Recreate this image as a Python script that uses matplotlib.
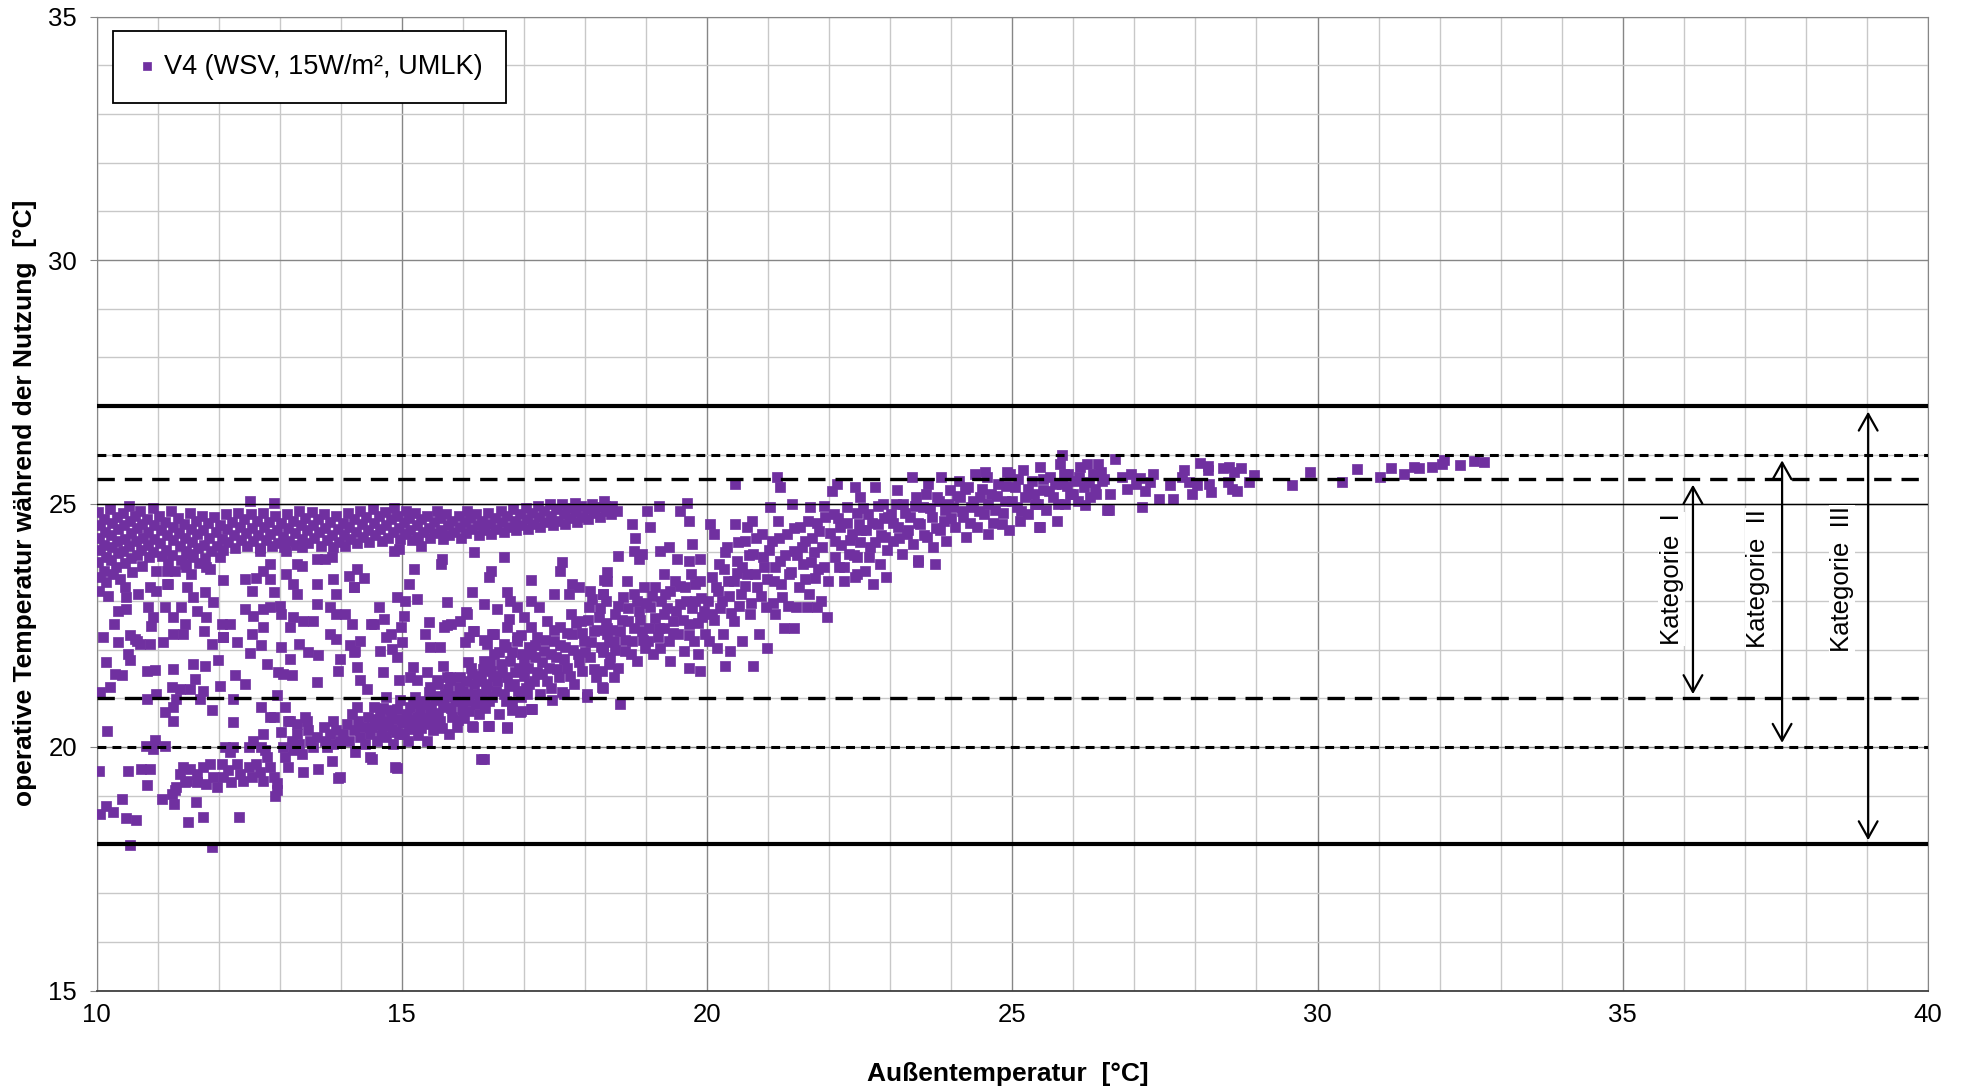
import numpy as np
import matplotlib
matplotlib.use("Agg")
import matplotlib.pyplot as plt
from matplotlib.ticker import MultipleLocator

plt.rcParams['font.family'] = ['Liberation Sans', 'DejaVu Sans']

# ---------------- data ----------------
series_label = "V4 (WSV, 15W/m², UMLK)"
x_label = "Außentemperatur  [°C]"
y_label = "operative Temperatur während der Nutzung  [°C]"
x_ticks = [10, 15, 20, 25, 30, 35, 40]
y_ticks = [15, 20, 25, 30, 35]

# comfort limits (EN 15251 style categories)
limit_solid = [27, 18]      # Kategorie III
limit_dotted = [26, 20]     # Kategorie II
limit_dashed = [25.5, 21]   # Kategorie I
categories = ["Kategorie  I", "Kategorie  II", "Kategorie  III"]
category_ranges = [(21, 25.5), (20, 26), (18, 27)]

# upper band of points at low outdoor temperatures
band_upper = [
    (10.03,24.82),(10.05,24.55),(10.04,24.3),(10.06,24.05),(10.03,23.8),(10.05,23.5),(10.04,23.2),
    (10.12,24.68),(10.14,24.42),(10.13,24.15),(10.15,23.9),(10.12,23.62),(10.16,23.38),(10.22,24.88),
    (10.25,24.6),(10.24,24.35),(10.26,24.1),(10.23,23.85),(10.27,23.55),(10.33,24.72),(10.35,24.48),
    (10.34,24.22),(10.36,23.98),(10.32,23.7),(10.38,23.45),(10.44,24.8),(10.45,24.55),(10.46,24.28),
    (10.43,24.02),(10.47,23.78),(10.53,24.95),(10.55,24.65),(10.56,24.4),(10.54,24.12),(10.57,23.88),
    (10.58,23.6),(10.63,24.75),(10.66,24.5),(10.64,24.22),(10.67,23.95),(10.72,24.85),(10.74,24.58),
    (10.76,24.3),(10.73,24.05),(10.75,23.72),(10.82,24.68),(10.85,24.42),(10.84,24.15),(10.86,23.9),
    (10.92,24.9),(10.94,24.55),(10.95,24.28),(10.93,24.0),(10.97,23.62),(11.03,24.75),(11.05,24.45),
    (11.04,24.18),(11.07,23.92),(11.12,24.62),(11.15,24.35),(11.14,24.05),(11.17,23.75),(11.22,24.85),
    (11.25,24.52),(11.26,24.25),(11.24,23.95),(11.28,23.62),(11.33,24.7),(11.35,24.4),(11.36,24.12),
    (11.38,23.85),(11.43,24.58),(11.45,24.3),(11.47,24.02),(11.46,23.7),(11.53,24.8),(11.55,24.48),
    (11.56,24.2),(11.58,23.9),(11.55,23.55),(11.63,24.65),(11.65,24.38),(11.66,24.08),(11.68,23.78),
    (11.73,24.75),(11.75,24.45),(11.76,24.15),(11.78,23.88),(11.83,24.6),(11.85,24.3),(11.88,24.02),
    (11.86,23.65),(11.93,24.72),(11.95,24.42),(11.97,24.12),(12.03,24.55),(12.05,24.28),(12.07,24.05),
    (12.12,24.78),(12.14,24.48),(12.16,24.2),(12.22,24.62),(12.25,24.35),(12.27,24.08),(12.32,24.8),
    (12.35,24.52),(12.37,24.25),(12.42,24.68),(12.45,24.4),(12.47,24.12),(12.51,25.06),(12.53,24.78),
    (12.55,24.5),(12.57,24.22),(12.63,24.65),(12.65,24.35),(12.67,24.08),(12.73,24.8),(12.75,24.52),
    (12.77,24.25),(12.83,24.62),(12.85,24.38),(12.88,24.12),(12.91,25.02),(12.93,24.75),(12.95,24.45),
    (12.97,24.18),(13.03,24.6),(13.05,24.32),(13.07,24.1),(13.12,24.78),(13.14,24.5),(13.16,24.22),
    (13.22,24.65),(13.25,24.4),(13.27,24.15),(13.32,24.85),(13.35,24.55),(13.37,24.28),(13.42,24.7),
    (13.45,24.45),(13.47,24.18),(13.53,24.82),(13.55,24.55),(13.57,24.3),(13.63,24.68),(13.65,24.42),
    (13.67,24.12),(13.73,24.78),(13.75,24.5),(13.77,24.25),(13.83,24.62),(13.85,24.35),(13.88,24.1),
    (13.93,24.75),(13.95,24.48),(13.97,24.2),(14.03,24.6),(14.05,24.35),(14.07,24.12),(14.12,24.8),
    (14.14,24.52),(14.16,24.28),(14.22,24.68),(14.25,24.42),(14.27,24.18),(14.32,24.85),(14.35,24.58),
    (14.37,24.32),(14.42,24.72),(14.45,24.45),(14.47,24.2),(14.53,24.88),(14.55,24.6),(14.57,24.35),
    (14.63,24.75),(14.65,24.48),(14.67,24.22),(14.73,24.82),(14.75,24.55),(14.77,24.3),(14.83,24.68),
    (14.85,24.42),(14.88,24.9),(14.93,24.75),(14.95,24.5),(14.97,24.28),(15.03,24.62),(15.05,24.38),
    (15.07,24.85),(15.12,24.7),(15.14,24.45),(15.16,24.25),(15.22,24.8),(15.25,24.55),(15.27,24.32),
    (15.32,24.68),(15.35,24.42),(15.42,24.75),(15.45,24.5),(15.47,24.3),(15.53,24.62),(15.55,24.4),
    (15.57,24.85),(15.63,24.7),(15.65,24.45),(15.67,24.28),(15.73,24.78),(15.75,24.55),(15.77,24.35),
    (15.83,24.65),(15.85,24.42),(15.93,24.75),(15.95,24.52),(15.97,24.3),(16.03,24.62),(16.05,24.4),
    (16.07,24.85),(16.12,24.7),(16.14,24.48),(16.22,24.78),(16.25,24.55),(16.27,24.35),(16.32,24.65),
    (16.35,24.45),(16.42,24.8),(16.45,24.58),(16.47,24.38),(16.53,24.7),(16.55,24.48),(16.63,24.85),
    (16.65,24.62),(16.67,24.42),(16.73,24.75),(16.75,24.52),(16.83,24.88),(16.85,24.65),(16.87,24.45),
    (16.93,24.78),(16.95,24.55),(17.03,24.9),(17.05,24.68),(17.07,24.48),(17.13,24.8),(17.15,24.58),
    (17.23,24.95),(17.25,24.72),(17.27,24.52),(17.33,24.85),(17.35,24.62),(17.43,24.98),(17.45,24.75),
    (17.47,24.55),(17.53,24.88),(17.55,24.65),(17.63,25.0),(17.65,24.78),(17.67,24.58),(17.73,24.9),
    (17.75,24.7),(17.83,25.02),(17.85,24.82),(17.87,24.62),(17.93,24.95),(17.95,24.72),(18.03,24.88),
    (18.05,24.68),(18.12,25.0),(18.15,24.8),(18.22,24.92),(18.25,24.72),(18.32,25.05),(18.35,24.85),
    (18.45,24.95),(18.42,24.78),
]

# loose points between the two bands
scatter_mid = [
    (10.11,22.26),(10.16,21.74),(10.05,21.13),(10.22,21.24),(10.36,22.15),(10.3,21.5),(10.41,21.47),
    (10.55,22.29),(10.63,22.22),(10.52,21.91),(10.55,21.78),(10.71,22.12),(10.87,22.12),(11.09,22.15),
    (10.82,21.57),(10.96,21.59),(10.98,21.09),(10.82,20.99),(11.23,21.23),(11.37,21.2),(11.53,21.2),
    (11.26,21.6),(11.58,21.71),(11.78,21.67),(11.61,21.4),(11.75,21.16),(11.31,20.99),(11.69,20.99),
    (11.12,20.72),(11.26,20.82),(11.26,20.54),(11.89,20.75),(12.02,21.26),(11.99,21.78),
    (12.07,22.26),(12.3,22.15),(12.27,21.47),(12.43,21.3),(12.24,20.99),(12.24,20.51),(12.54,22.33),
    (12.51,21.92),(12.7,22.09),(12.79,21.71),(12.73,22.46),(12.98,21.54),(13.06,21.5),(13.2,21.47),
    (12.95,21.06),(12.7,20.82),(12.9,20.61),(13.09,20.82),(13.17,20.54),(13.03,22.05),(13.17,21.81),
    (13.31,22.12),(13.47,21.95),(13.63,21.88),(13.61,21.33),(13.83,22.33),(13.93,22.22),(13.96,21.57),
    (13.99,21.81),(14.15,22.09),(14.21,21.95),(14.26,21.64),(14.32,21.37),(14.43,21.2),(14.54,22.53),
    (14.64,21.98),(14.75,22.26),(14.84,22.02),(14.92,21.85),(15.0,22.15),(14.95,21.37),(14.7,21.54),
    (15.14,21.44),(15.19,21.64),(15.41,21.54),(15.38,22.33),(15.46,22.05),(15.63,22.05),(15.74,22.5),
    (15.68,21.67),(15.79,21.44),(16.07,22.74),(16.04,22.15),(16.17,22.39),(16.09,21.74),(16.34,22.19),
    (16.48,22.33),(16.67,22.12),(16.72,22.46),(16.89,22.26),
    (10.19,23.11),(10.46,23.28),(10.49,23.07),(10.68,23.14),(10.87,23.28),(10.98,23.21),(11.15,23.35),
    (11.48,23.28),(11.58,23.07),(11.78,23.18),(10.36,22.8),(10.49,22.83),(10.85,22.87),(10.93,22.66),
    (11.12,22.87),(11.26,22.66),(11.39,22.87),(11.45,22.52),(11.64,22.8),(11.8,22.66),(11.91,22.97),
    (10.28,22.52),(10.9,22.48),(11.26,22.32),(11.42,22.32),(11.76,22.39),(11.89,22.11),(12.08,22.25),
    (10.66,22.18),(12.19,22.52),(12.05,22.52),(12.43,22.83),(12.57,22.7),(12.73,22.83),(12.84,22.87),
    (13.01,22.9),(13.03,22.73),(13.22,22.66),(13.17,22.46),(13.39,22.59),(13.55,22.59),(13.93,22.73),
    (14.07,22.73),(14.18,22.52),(12.62,23.48),(12.43,23.45),(12.54,23.21),(12.73,23.62),(12.84,23.45),
    (12.9,23.18),(13.11,23.55),(13.22,23.35),(13.28,23.14),(13.36,23.72),(13.61,23.35),(13.88,23.45),
    (13.93,23.14),(14.13,23.52),(14.21,23.28),(13.61,22.94),(13.83,22.87),(12.68,24.03),(12.84,23.76),
    (13.11,24.03),(13.28,23.76),(13.36,24.1),(13.61,23.86),(13.74,23.86),(13.85,23.9),(11.45,23.76),
    (11.53,23.96),(11.15,23.62),(11.17,23.35),(11.8,23.69),(12.08,23.42),(12.02,23.9),
    (14.38,23.48),(14.27,23.65),(14.21,23.28),(14.87,24.03),(14.95,24.07),(15.31,24.13),(15.66,23.86),
    (15.64,23.76),(15.2,23.65),(15.12,23.35),(16.18,24.0),(16.67,23.9),(16.46,23.62),(16.43,23.5),
    (17.11,23.43),(17.63,23.79),(17.59,23.62),(17.79,23.35),(17.9,23.28),(18.09,23.21),(18.37,23.59),
    (18.31,23.42),(14.92,23.07),(15.06,23.0),(15.25,23.04),(14.62,22.87),(14.71,22.63),(15.03,22.7),
    (15.44,22.56),(15.74,22.97),(16.15,23.18),(16.05,22.77),(16.35,22.94),(16.56,22.83),(16.73,23.18),
    (16.78,23.0),(16.89,22.87),(17.11,23.0),(17.25,22.87),(17.49,23.14),(17.74,23.14),(17.0,22.66),
    (16.76,22.63),(16.51,22.32),(16.18,22.39),(16.4,22.11),(15.96,22.59),(15.8,22.52),(15.69,22.46),
    (14.98,22.46),(14.82,22.32),(14.49,22.52),(14.32,22.18),(14.24,21.98),
]

# lower band rising with outdoor temperature
band_lower = [
    (11.31,19.17),(11.37,19.45),(11.42,19.59),(11.53,19.55),(11.48,19.31),(11.64,19.45),(11.64,19.28),
    (11.75,19.59),(11.8,19.24),(11.86,19.65),(11.91,19.38),(11.97,19.17),(11.23,19.04),(11.28,19.11),
    (11.45,19.28),(12.05,19.65),(12.08,19.38),(12.16,19.52),(12.21,19.28),(12.3,19.65),(12.35,19.45),
    (12.4,19.31),(12.49,19.59),(12.54,19.38),(12.62,19.65),(12.68,19.48),(12.73,19.31),(12.79,19.79),
    (12.84,19.59),(12.9,19.38),(12.95,19.11),(12.76,19.93),(12.7,20.0),(12.57,20.13),
    (12.49,20.0),(12.24,20.0),(12.1,20.0),(12.19,19.89),(13.03,20.31),(13.06,20.0),(13.09,19.79),
    (13.14,19.59),(13.2,20.13),(13.22,19.93),(13.28,20.27),(13.31,20.06),(13.36,19.86),(13.39,19.48),
    (13.42,20.61),(13.47,20.34),(13.5,20.13),(13.55,20.0),(13.61,20.2),(13.63,19.55),(13.72,20.41),
    (13.74,20.13),(13.77,20.0),(13.83,20.27),(13.88,20.54),(13.88,20.06),(13.93,20.34),(13.99,20.13),
    (13.99,19.38),(13.28,20.48),(13.44,20.54),(13.14,20.54),(12.84,20.61),(12.73,20.27),(13.85,19.72),
    (13.96,19.36),(14.92,19.56),(14.48,19.79),
    (14.04,20.27),(14.1,20.48),(14.13,20.13),(14.18,20.68),(14.21,20.34),(14.23,19.89),(14.29,20.54),
    (14.32,20.2),(14.37,20.41),(14.4,20.06),(14.45,20.61),(14.48,20.27),(14.51,19.76),(14.56,20.48),
    (14.59,20.13),(14.64,20.68),(14.67,20.34),(14.73,20.54),(14.75,20.2),(14.81,20.75),(14.84,20.37),
    (14.86,20.06),(14.89,19.59),(14.92,20.58),(14.95,20.27),(14.97,20.96),(14.26,20.82),(14.54,20.82),
    (14.75,21.02),(15.03,20.27),(15.05,20.54),(15.11,20.13),(15.14,20.82),(15.16,20.41),(15.22,21.02),
    (15.25,20.61),(15.27,20.24),(15.33,20.89),(15.36,20.48),(15.41,20.13),(15.44,21.13),(15.46,20.68),
    (15.52,20.34),(15.55,20.96),(15.6,21.3),(15.63,20.54),(15.68,20.82),(15.71,21.09),(15.77,20.27),
    (15.79,21.37),(15.82,20.61),(15.87,20.96),(15.9,20.41),(15.93,21.23),(15.98,20.75),(15.96,21.44),
    (15.74,21.44),(15.57,21.37),(15.25,21.37),(15.46,21.23),(16.05,21.36),(16.07,21.09),(16.1,20.74),
    (16.13,21.63),(16.18,21.29),(16.21,20.88),(16.26,20.68),(16.29,21.46),(16.32,21.09),(16.35,21.77),
    (16.37,20.81),(16.4,21.29),(16.46,21.57),(16.48,21.02),(16.51,21.91),(16.56,21.36),(16.59,20.68),
    (16.62,21.7),(16.67,21.09),(16.7,22.05),(16.73,21.43),(16.78,21.77),(16.81,20.88),(16.84,21.29),
    (16.89,22.18),(16.92,21.63),(16.95,21.02),(16.97,21.91),(16.15,20.44),(16.43,20.44),(16.73,20.4),
    (17.11,20.78),(16.95,20.74),(16.29,19.75),(16.1,22.25),(16.17,20.41),(16.42,20.44),(16.72,20.41),
    (16.34,19.76),(16.8,20.75),(16.94,20.72),(17.13,20.78),(17.05,21.09),(17.46,20.96),(17.62,21.13),
    (18.28,21.23),(18.03,21.02),
    (17.03,21.22),(17.06,21.63),(17.08,22.05),(17.11,22.46),(17.16,21.36),(17.19,21.84),(17.22,22.25),
    (17.27,21.09),(17.3,21.5),(17.33,21.98),(17.38,22.59),(17.41,21.63),(17.44,21.22),(17.49,22.18),
    (17.52,21.84),(17.58,21.43),(17.6,22.46),(17.66,21.09),(17.68,22.05),(17.71,21.63),(17.77,22.73),
    (17.79,22.32),(17.82,21.29),(17.88,21.91),(17.93,22.59),(17.96,21.57),(17.99,22.18),(18.04,21.09),
    (18.07,22.87),(18.09,21.84),(18.15,22.39),(18.18,21.43),(18.23,22.66),(18.26,22.05),(18.29,21.22),
    (18.34,23.0),(18.37,22.32),(18.4,21.7),(18.29,23.14),(18.12,23.04),
    (18.28,21.56),(18.3,22.04),(18.36,22.45),(18.41,21.84),(18.47,22.18),(18.5,22.73),(18.55,21.63),
    (18.58,22.39),(18.63,23.07),(18.66,21.97),(18.71,22.59),(18.77,22.18),(18.8,23.14),(18.85,21.77),
    (18.88,22.8),(18.93,22.39),(18.96,23.28),(18.99,22.04),(18.58,20.88),(18.47,21.43),(18.69,23.41),
    (18.36,23.41),(18.3,23.14),(18.55,23.93),(18.88,23.86),(18.77,24.58),(18.82,24.3),(18.52,24.85),
    (18.33,24.95),
    (19.04,22.18),(19.07,22.87),(19.12,21.91),(19.15,23.28),(19.21,22.45),(19.23,22.04),(19.29,22.73),
    (19.32,23.14),(19.37,22.18),(19.4,21.77),(19.45,22.59),(19.48,23.41),(19.53,22.32),(19.56,22.93),
    (19.62,21.97),(19.64,23.28),(19.7,22.52),(19.73,23.55),(19.78,22.18),(19.81,23.0),(19.86,21.91),
    (19.89,23.41),(19.92,22.66),(19.97,22.32),(19.7,21.63),(19.89,21.56),(19.02,24.85),(19.21,24.95),
    (19.56,24.85),(19.67,25.02),(19.7,24.65),(19.07,24.51),(18.8,24.03),(18.93,23.96),(19.23,24.03),
    (19.37,24.1),(19.51,23.86),(19.7,23.82),(19.89,23.86),(19.75,24.17),(19.29,23.55),
    (20.03,22.18),(20.05,24.58),(20.08,22.73),(20.11,24.37),(20.14,23.28),(20.16,22.04),(20.19,23.76),
    (20.24,23.0),(20.27,22.32),(20.33,24.1),(20.35,23.41),(20.38,21.97),(20.44,22.59),(20.46,24.58),
    (20.49,23.82),(20.55,23.14),(20.57,22.18),(20.63,24.23),(20.65,23.55),(20.71,22.73),(20.74,24.65),
    (20.76,23.96),(20.82,23.28),(20.85,22.32),(20.9,24.37),(20.93,23.69),(20.96,22.87),(20.98,22.04),
    (20.3,21.67),(20.76,21.67),(20.49,23.58),(20.65,24.51),
    (21.04,24.92),(21.06,24.23),(21.09,23.41),(21.12,22.73),(21.17,24.65),(21.2,23.82),(21.23,23.07),
    (21.26,22.45),(21.31,24.37),(21.34,23.55),(21.39,24.99),(21.42,24.03),(21.45,22.87),(21.5,23.28),
    (21.53,24.51),(21.58,23.76),(21.61,24.23),(21.67,23.14),(21.69,24.92),(21.75,24.0),(21.77,23.48),
    (21.83,24.44),(21.86,23.0),(21.91,23.69),(21.94,24.72),(21.97,22.66),(21.64,22.87),(21.42,22.45),
    (21.8,22.87),(21.2,25.33),(21.15,25.54),(20.46,25.4),
    (22.05,25.26),(22.08,24.78),(22.1,24.23),(22.16,23.69),(22.18,24.51),(22.24,23.41),(22.29,24.92),
    (22.32,23.96),(22.38,24.37),(22.43,25.33),(22.46,23.55),(22.49,24.58),(22.13,25.4),
    (22.5,25.13),(22.53,24.45),(22.59,23.62),(22.64,24.79),(22.67,24.1),(22.72,23.35),(22.75,25.34),
    (22.8,24.58),(22.83,23.76),(22.89,24.99),(22.91,24.31),(22.94,23.49),(22.97,24.72),(22.45,23.9),
    (22.42,23.49),
    (23.02,24.79),(23.05,24.24),(23.11,25.27),(23.13,24.51),(23.19,23.97),(23.21,24.99),(23.27,24.38),
    (23.32,24.72),(23.35,25.54),(23.38,24.17),(23.43,25.13),(23.46,23.83),(23.49,24.58),(23.54,24.92),
    (23.6,24.31),(23.62,25.4),(23.68,24.72),(23.71,24.1),(23.76,25.13),(23.82,24.45),(23.84,25.54),
    (23.9,24.86),(23.92,24.24),(23.98,25.27),(23.73,23.76),(23.46,23.79),
    (24.03,24.92),(24.06,24.51),(24.12,25.47),(24.14,25.13),(24.2,24.72),(24.25,24.31),(24.28,25.34),
    (24.33,24.92),(24.39,25.61),(24.42,24.51),(24.47,25.13),(24.53,24.79),(24.58,25.54),(24.61,24.38),
    (24.66,25.2),(24.72,24.86),(24.77,25.4),(24.83,24.58),(24.88,25.06),(24.94,24.45),(24.96,25.61),
    (24.91,25.64),(24.55,25.64),
    (25.04,25.34),(25.07,24.92),(25.13,24.65),(25.18,25.68),(25.21,25.13),(25.26,24.79),(25.32,25.47),
    (25.37,24.99),(25.43,24.51),(25.45,25.75),(25.51,25.27),(25.56,24.86),(25.62,25.54),(25.67,25.13),
    (25.73,24.65),(25.78,25.82),(25.81,25.4),(25.86,24.99),(25.92,25.61),(25.95,25.2),(25.81,25.99),
    (25.45,24.51),
    (26.03,25.47),(26.08,25.06),(26.11,25.75),(26.17,25.34),(26.22,25.82),(26.27,25.13),(26.33,25.61),
    (26.38,25.2),(26.41,25.82),(26.47,25.47),(26.55,24.86),(26.19,24.96),
]

# extra points in the densest part of the rising band
band_lower_dense = [
    (14.52,20.42),(14.6,20.58),(14.66,20.22),(14.7,20.8),(14.78,20.45),(14.82,20.62),(14.9,20.3),
    (14.93,20.78),(15.0,20.5),(15.08,20.68),(15.12,20.36),(15.19,20.9),(15.2,20.55),(15.3,20.75),
    (15.31,20.4),(15.38,20.95),(15.4,20.6),(15.48,20.82),(15.5,20.5),(15.58,21.05),(15.6,20.7),
    (15.66,20.4),(15.7,20.92),(15.76,21.2),(15.8,20.8),(15.85,21.05),(15.92,20.55),(15.95,20.95),
    (16.0,21.15),(16.02,20.6),(16.08,20.95),(16.15,21.5),(16.2,21.08),(16.25,21.35),(16.28,20.9),
    (16.33,21.6),(16.38,21.2),(16.43,20.95),(16.45,21.75),(16.5,21.45),
    (16.55,21.15),(16.6,21.95),(16.65,21.55),(16.7,20.95),(16.75,21.25),(16.8,21.95),(16.85,21.55),
    (16.9,21.15),(16.95,22.3),(17.0,21.75),(17.0,21.45),(17.08,21.3),(17.12,21.9),(17.18,22.1),
    (17.22,21.55),(17.3,21.75),(17.35,22.2),(17.38,21.35),(17.45,21.9),(17.5,22.4),(17.55,21.6),
    (17.6,22.1),(17.65,21.8),(17.7,22.35),(17.75,21.45),(17.8,22.0),(17.85,22.55),(17.9,21.75),
    (17.95,22.35),(18.0,21.95),(18.05,22.6),(18.1,22.15),(18.15,21.6),(18.2,22.4),(18.25,22.85),
    (18.3,21.95),(18.35,22.55),(18.4,22.15),
    (18.45,22.4),(18.5,22.0),(18.55,22.9),(18.6,22.6),(18.65,22.2),(18.7,22.85),(18.75,21.9),
    (18.8,22.45),(18.85,23.0),(18.9,22.6),(18.95,22.2),(19.0,22.95),(19.05,22.45),(19.1,23.1),
    (19.15,22.65),(19.2,22.25),(19.25,23.0),(19.3,22.45),(19.35,22.85),(19.4,23.2),(19.45,22.35),
    (19.5,22.8),(19.55,23.3),(19.6,22.6),(19.65,23.0),(19.7,22.3),(19.75,22.85),(19.8,23.35),
    (19.85,22.55),(19.9,23.05),(19.95,22.8),
    (20.02,23.0),(20.08,23.5),(20.12,22.6),(20.18,23.2),(20.22,22.85),(20.28,23.65),(20.3,24.0),
    (20.36,23.1),(20.4,22.75),(20.45,23.4),(20.5,24.2),(20.52,22.9),(20.58,23.7),(20.62,23.3),
    (20.68,23.95),(20.72,22.95),(20.78,23.55),(20.8,24.3),(20.88,23.1),(20.92,23.9),(20.98,23.45),
    (21.02,24.05),(21.08,22.95),(21.12,23.7),(21.18,24.3),(21.22,23.35),(21.28,23.95),(21.32,22.9),
    (21.38,23.6),(21.42,24.5),(21.48,23.95),
    (21.55,24.1),(21.6,23.45),(21.65,24.65),(21.7,23.8),(21.72,24.3),(21.8,24.6),(21.82,23.65),
    (21.88,24.1),(21.92,24.95),(21.98,23.4),(22.02,24.4),(22.1,23.9),(22.15,24.7),(22.2,24.15),
    (22.25,23.7),(22.3,24.6),(22.35,24.25),(22.4,23.95),(22.45,24.8),(22.5,24.2),(22.55,24.9),
    (22.6,24.45),(22.65,23.9),(22.7,24.6),(22.75,24.2),(22.8,24.95),(22.85,24.35),(22.9,24.7),
    (22.95,24.05),
    (23.05,24.6),(23.1,25.0),(23.15,24.3),(23.25,24.8),(23.3,24.45),(23.4,24.95),(23.45,24.6),
    (23.55,24.35),(23.58,25.2),(23.65,24.9),(23.75,24.5),(23.8,25.05),(23.88,24.65),(23.95,25.0),
    (24.0,24.7),(24.1,25.15),(24.18,24.85),(24.22,25.3),(24.3,24.6),(24.36,25.05),(24.45,24.85),
    (24.5,25.3),(24.6,25.0),(24.68,24.6),(24.75,25.15),(24.85,24.8),(24.9,25.35),(25.0,25.05),
    (25.1,25.5),(25.15,24.85),(25.25,25.3),(25.35,25.2),(25.42,25.0),(25.5,25.5),(25.6,25.25),
    (25.7,25.4),(25.75,25.0),(25.85,25.6),(25.9,25.35),(26.0,25.2),(26.1,25.55),(26.25,25.45),
    (26.35,25.3),(26.45,25.65),
]

# sparse points at high outdoor temperatures
tail_right = [
    (26.5,25.5),(26.6,25.2),(26.69,25.92),(26.8,25.55),(26.88,25.3),(26.95,25.6),(27.02,25.4),
    (27.1,25.52),(27.18,25.25),(27.25,25.45),(27.3,25.6),(26.58,24.86),(27.12,24.93),(27.4,25.1),
    (27.64,25.1),(27.59,25.37),(27.81,25.69),(27.78,25.54),(27.9,25.45),(28.03,25.38),(27.94,25.2),
    (28.08,25.84),(28.2,25.78),(28.2,25.68),(28.22,25.4),(28.26,25.23),(28.46,25.72),(28.55,25.75),
    (28.64,25.65),(28.74,25.72),(28.54,25.44),(28.6,25.3),(28.68,25.25),(28.87,25.44),(28.96,25.58),
    (29.58,25.37),(29.87,25.64),(30.4,25.44),(30.64,25.7),(31.02,25.54),(31.2,25.73),(31.41,25.61),
    (31.58,25.75),(31.66,25.72),(31.88,25.74),(32.04,25.81),(32.07,25.89),(32.33,25.8),(32.56,25.88),
    (32.72,25.86),
]

# isolated low values at cool outdoor temperatures
outliers_low = [
    (10.05,18.62),(10.16,18.79),(10.27,18.66),(10.41,18.93),(10.49,18.54),(10.64,18.5),(10.55,17.98),
    (11.08,18.93),(11.27,18.83),(11.5,18.47),(11.63,18.87),(11.75,18.57),(11.9,17.94),(12.34,18.57),
    (10.04,19.51),(10.52,19.51),(10.73,19.54),(10.87,19.54),(10.83,19.22),(10.18,20.33),(10.81,20.02),
    (10.96,20.14),(11.12,20.02),(10.93,19.96),(12.95,19.27),(12.92,19.0),
]

# ---------------- figure ----------------
W, H = 1966, 1091
fig = plt.figure(figsize=(W / 100, H / 100), dpi=100)
ax = fig.add_axes([96.5 / W, 1 - 990.5 / H, 1831.5 / W, 974 / H])

pts = np.array(band_upper + scatter_mid + band_lower + band_lower_dense + tail_right + outliers_low)
purple = "#7030A0"
ax.scatter(pts[:, 0], pts[:, 1], s=50, marker="s", facecolor=purple, edgecolor=purple,
           linewidths=0.5, zorder=3, label=series_label)

ax.set_xlim(x_ticks[0], x_ticks[-1])
ax.set_ylim(y_ticks[0], y_ticks[-1])
ax.set_xticks(x_ticks)
ax.set_yticks(y_ticks)
ax.xaxis.set_minor_locator(MultipleLocator(1))
ax.yaxis.set_minor_locator(MultipleLocator(1))
ax.grid(which="major", color="#868686", linewidth=1.0, zorder=1)
ax.grid(which="minor", color="#c8c8c8", linewidth=1.0, zorder=0)
ax.set_axisbelow(True)
for side in ["top", "right", "left"]:
    ax.spines[side].set_color("#868686")
ax.spines["bottom"].set_color("#404040")
ax.spines["bottom"].set_linewidth(1.3)
ax.tick_params(axis="x", which="major", length=0, pad=9, labelsize=18.5, colors="#000000")
ax.tick_params(axis="y", which="major", length=5, pad=9, labelsize=18.5, color="#868686")
ax.tick_params(which="minor", length=0)

# reference line at 25
ax.axhline(25, color="black", linewidth=1.0, zorder=4)
# category limit lines
for v in limit_solid:
    ax.axhline(v, color="black", linewidth=3.0, zorder=5)
for v in limit_dotted:
    ax.axhline(v, color="black", linewidth=2.2, linestyle=(0, (2.9, 2.0)), zorder=5)
for v in limit_dashed:
    ax.axhline(v, color="black", linewidth=2.4, linestyle=(0, (5.2, 3.0)), zorder=5)

arrow_x = [36.15, 37.61, 39.02]
text_x = [35.8, 37.22, 38.59]
for name, (lo, hi), xa, xt in zip(categories, category_ranges, arrow_x, text_x):
    ax.annotate("", xy=(xa, hi), xytext=(xa, lo),
                arrowprops=dict(arrowstyle="<->,head_length=0.8,head_width=0.45",
                                color="black", lw=1.6, mutation_scale=15,
                                shrinkA=3, shrinkB=4), zorder=6)
    ax.text(xt, 23.45, name, rotation=90, ha="center", va="center", fontsize=18.5,
            bbox=dict(facecolor="white", edgecolor="none", pad=1), zorder=6)

leg = ax.legend(loc="upper left", bbox_to_anchor=(0.009, 0.9856), borderaxespad=0,
                fontsize=19.5, frameon=True, fancybox=False, edgecolor="black",
                framealpha=1, borderpad=0.85, handlelength=0.8, handletextpad=0.25,
                scatterpoints=1, markerscale=0.8)
leg.get_frame().set_linewidth(1.3)
leg.set_zorder(7)

fig.text(1008 / W, 1 - 1074 / H, x_label, ha="center", va="center",
         fontsize=19, fontweight="bold")
fig.text(25 / W, 1 - 503 / H, y_label, ha="center", va="center", rotation=90,
         fontsize=19, fontweight="bold")

fig.savefig("out.png", dpi=100)
